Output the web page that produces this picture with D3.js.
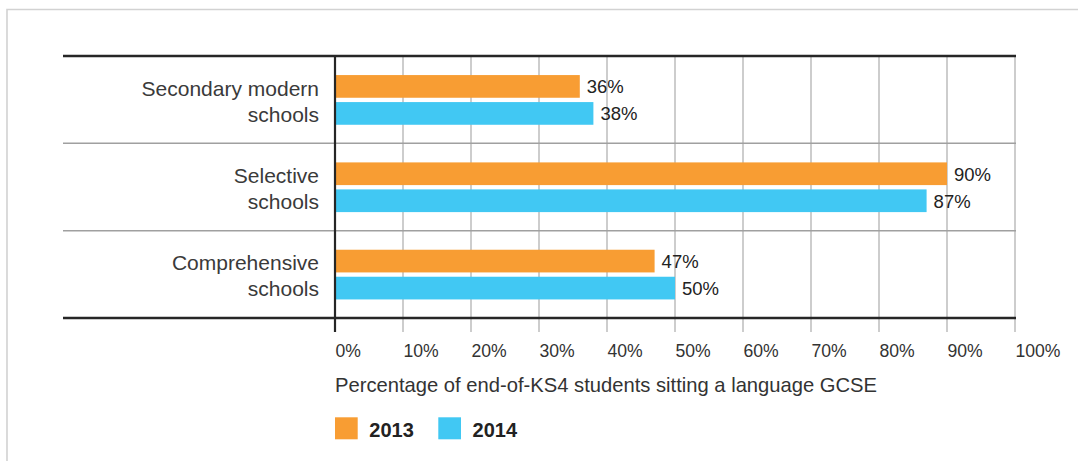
<!DOCTYPE html>
<html>
<head>
<meta charset="utf-8">
<script src="https://cdn.jsdelivr.net/npm/d3@7"></script>
<style>
  html, body { margin: 0; padding: 0; background: #fff; }
  svg { display: block; font-family: "Liberation Sans", Arial, sans-serif; }
</style>
</head>
<body>
<div id="chart"></div>
<script>
// ---- data ----
const categories = [["Secondary modern", "schools"], ["Selective", "schools"], ["Comprehensive", "schools"]];
const categoryKeys = ["Secondary modern schools", "Selective schools", "Comprehensive schools"];
const series = ["2013", "2014"];
const values2013 = [36, 90, 47];
const values2014 = [38, 87, 50];
const tickValues = [0, 10, 20, 30, 40, 50, 60, 70, 80, 90, 100];
const axisTitle = "Percentage of end-of-KS4 students sitting a language GCSE";
const colors = { "2013": "#f89d33", "2014": "#41c8f3" };

const W = 1078, H = 461;
const svg = d3.select("#chart").append("svg").attr("width", W).attr("height", H);

// frame (left + top light border)
svg.append("path")
  .attr("d", `M7,${H} L7,9.5 L${W},9.5`)
  .attr("fill", "none").attr("stroke", "#d2d2d2").attr("stroke-width", 1.6);

const plotTop = 56, plotBottom = 318, lineLeft = 63;
const x = d3.scaleLinear().domain([0, 100]).range([335, 1015]);
const y = d3.scaleBand().domain(categoryKeys).range([plotTop, plotBottom]).padding(0);
const inner = d3.scaleBand().domain(series).range([0, 49.7]).paddingInner(0.16);

const rows = categoryKeys.map((k, i) => ({ key: k, lines: categories[i], "2013": values2013[i], "2014": values2014[i] }));

// gridlines
svg.append("g").selectAll("line").data(tickValues).join("line")
  .attr("x1", d => x(d)).attr("x2", d => x(d))
  .attr("y1", plotTop).attr("y2", 332)
  .attr("stroke", "#bdbdbd").attr("stroke-width", 1.5);

// separators between categories
svg.append("g").selectAll("line").data(categoryKeys.slice(1)).join("line")
  .attr("x1", lineLeft).attr("x2", x(100) + 1)
  .attr("y1", d => y(d)).attr("y2", d => y(d))
  .attr("stroke", "#a0a0a0").attr("stroke-width", 1.5);

// bars
const groups = svg.append("g").selectAll("g").data(rows).join("g")
  .attr("transform", d => `translate(0,${y(d.key) + y.bandwidth() / 2 - 24.6})`);

groups.selectAll("rect").data(d => series.map(s => ({ s, v: d[s] }))).join("rect")
  .attr("x", x(0))
  .attr("y", d => inner(d.s))
  .attr("width", d => x(d.v) - x(0))
  .attr("height", inner.bandwidth())
  .attr("fill", d => colors[d.s]);

groups.selectAll("text").data(d => series.map(s => ({ s, v: d[s] }))).join("text")
  .attr("x", d => x(d.v) + 7)
  .attr("y", d => inner(d.s) + inner.bandwidth() / 2 + 6.8)
  .attr("font-size", 18.5)
  .attr("fill", "#222")
  .text(d => d.v + "%");

// category labels
const catLabels = svg.append("g").selectAll("text").data(rows).join("text")
  .attr("text-anchor", "end")
  .attr("font-size", 21)
  .attr("fill", "#3a3a3a")
  .attr("x", 319)
  .attr("y", d => y(d.key) + y.bandwidth() / 2 - 4);
catLabels.selectAll("tspan").data(d => d.lines).join("tspan")
  .attr("x", 319)
  .attr("dy", (d, i) => i === 0 ? 0 : 26)
  .text(d => d);

// top & bottom dark lines
svg.append("g").selectAll("line").data([plotTop, plotBottom]).join("line")
  .attr("x1", lineLeft).attr("x2", x(100) + 1)
  .attr("y1", d => d).attr("y2", d => d)
  .attr("stroke", "#262626").attr("stroke-width", 2.4);

// vertical axis line
svg.append("line")
  .attr("x1", x(0)).attr("x2", x(0))
  .attr("y1", plotTop).attr("y2", 332)
  .attr("stroke", "#262626").attr("stroke-width", 2.2);

// x tick labels
const xAxis = d3.axisBottom(x).tickValues(tickValues).tickSize(0).tickFormat(d => d + "%");
const gx = svg.append("g").attr("transform", "translate(0,343)").call(xAxis);
gx.select(".domain").remove();
gx.selectAll("text")
  .attr("text-anchor", "start")
  .attr("dy", 0).attr("y", 13.5)
  .attr("font-size", 17.6)
  .attr("font-family", "Liberation Sans, Arial, sans-serif")
  .attr("fill", "#333");

// axis title
svg.append("text")
  .attr("x", x(0)).attr("y", 391.5)
  .attr("font-size", 20.2)
  .attr("fill", "#333")
  .text(axisTitle);

// legend
const legendX = [335, 438.3];
const lg = svg.append("g").selectAll("g").data(series).join("g")
  .attr("transform", (d, i) => `translate(${legendX[i]},417.3)`);
lg.append("rect").attr("width", 22.7).attr("height", 22).attr("fill", d => colors[d]);
lg.append("text").attr("x", 34.3).attr("y", 19.4)
  .attr("font-size", 20).attr("font-weight", "bold").attr("fill", "#222")
  .text(d => d);
</script>
</body>
</html>
